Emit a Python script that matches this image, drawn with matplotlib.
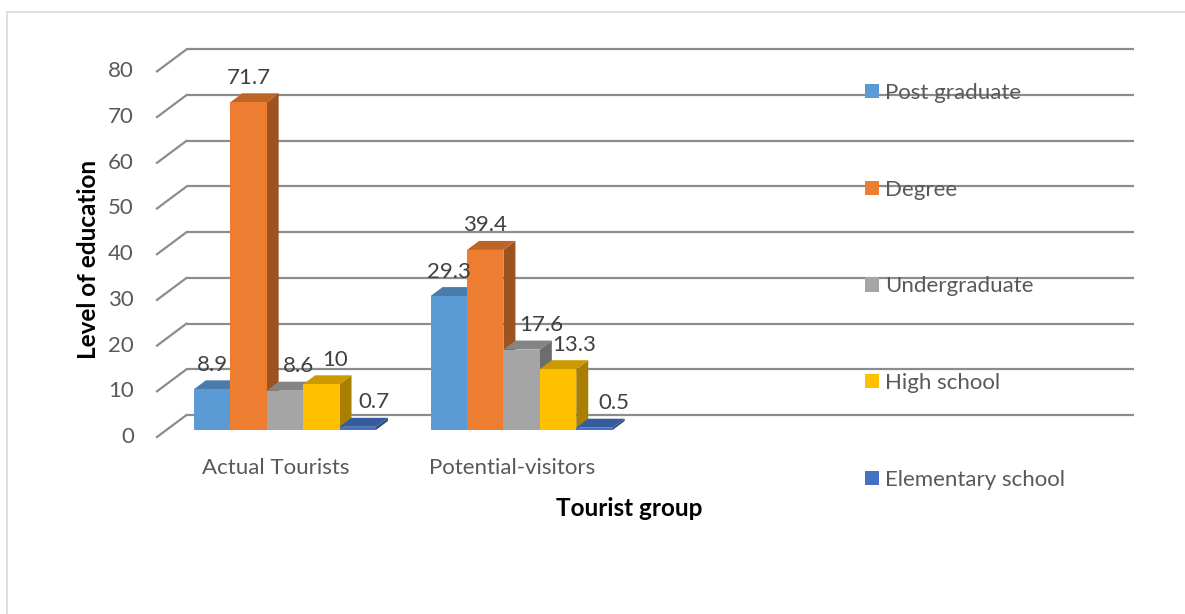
import numpy as np
import matplotlib
matplotlib.use("Agg")
import matplotlib.pyplot as plt
from matplotlib.patches import Polygon, Rectangle, Patch

plt.rcParams['font.family'] = ['Lato', 'DejaVu Sans']

# data
groups = ['Actual Tourists', 'Potential-visitors']
levels = ['Post graduate', 'Degree', 'Undergraduate', 'High school', 'Elementary school']
post_graduate = [8.9, 29.3]
degree = [71.7, 39.4]
undergraduate = [8.6, 17.6]
high_school = [10, 13.3]
elementary = [0.7, 0.5]
series = [post_graduate, degree, undergraduate, high_school, elementary]
colors = ['#5B9BD5', '#ED7D31', '#A5A5A5', '#FFC000', '#4472C4']
yticks = np.arange(0, 81, 10)

# layout (pixels of the 1185x614 picture)
W, H = 1185, 614
n_slots = 4              # the category axis has room for 4 groups
x0_px, slot_px = 166.5, 236.75
y0_px, unit_px = 430, 4.57
gap = 1.5                # Excel gap width 150%
nb = len(series)
bw = 1 / (nb + gap)
fs = 16

def dx(p):
    return p / slot_px

def dy(p):
    return p / unit_px

bar_d = (dx(12), dy(9))        # depth of the bars
wall_d = (dx(20), dy(15))      # back wall
front_d = (dx(-9.5), dy(-7))   # front edge of the floor

fig = plt.figure(figsize=(W / 100, H / 100), dpi=100)
ax = fig.add_axes([0, 0, 1, 1])
ax.set_xlim(-x0_px / slot_px, (W - x0_px) / slot_px)
ax.set_ylim(-(H - y0_px) / unit_px, y0_px / unit_px)
ax.axis('off')

grid_c = '#8C8C8C'
for v in yticks:
    ax.plot([wall_d[0], n_slots + wall_d[0]], [v + wall_d[1], v + wall_d[1]],
            color=grid_c, lw=1.6, zorder=1, solid_capstyle='butt')
    ax.plot([front_d[0], wall_d[0]], [v + front_d[1], v + wall_d[1]],
            color=grid_c, lw=1.6, zorder=1)
    ax.text(front_d[0] + dx(-23), v + front_d[1], str(v), ha='right', va='center',
            fontsize=fs, color='#595959')

def shade(c, f):
    r, g, b = matplotlib.colors.to_rgb(c)
    return (r * f, g * f, b * f)

label_shift = [[0, 0, 13.5, 14, 16], [0, 0, 20, 16, 19]]

z = 2
for i in range(len(groups)):
    for k, vals in enumerate(series):
        v = vals[i]
        left = i + (gap / 2 + k) * bw
        c = colors[k]
        side = [(left + bw, 0), (left + bw, v), (left + bw + bar_d[0], v + bar_d[1]),
                (left + bw + bar_d[0], bar_d[1])]
        top = [(left, v), (left + bw, v), (left + bw + bar_d[0], v + bar_d[1]),
               (left + bar_d[0], v + bar_d[1])]
        ax.add_patch(Polygon(side, closed=True, fc=shade(c, 0.66), ec='none', zorder=z))
        ax.add_patch(Polygon(top, closed=True, fc=shade(c, 0.8), ec='none', zorder=z + 0.1))
        ax.bar(left, v, bw, align='edge', color=c, zorder=z + 0.2, lw=0)
        z += 1
        ax.text(left + bw / 2 + dx(label_shift[i][k]), v + bar_d[1] + dy(15.5), f'{v:g}',
                ha='center', va='center', fontsize=fs, color='#404040', zorder=50)
    ax.text(i + 0.5 + front_d[0], front_d[1] + dy(-31), groups[i], ha='center',
            va='center', fontsize=fs, color='#595959')

ax.text(dx(629 - x0_px), dy(y0_px - 508), 'Tourist group', ha='center', va='center',
        fontsize=17.5, fontweight='bold', color='black')
ax.text(dx(88 - x0_px), dy(y0_px - 259), 'Level of education', ha='center', va='center',
        rotation=90, fontsize=17.5, fontweight='bold', color='black')

handles = [Patch(facecolor=c, edgecolor='none') for c in colors]
leg = fig.legend(handles, levels, loc='upper left', bbox_to_anchor=(865 / W, 1 - 83 / H),
                 frameon=False, fontsize=fs, labelcolor='#595959', handlelength=0.62,
                 handleheight=0.62, handletextpad=0.28, labelspacing=3.45,
                 borderpad=0, borderaxespad=0)

fig.add_artist(Rectangle((7 / W, -0.05), 1.1, 1 - 12 / H + 0.05, transform=fig.transFigure,
                         fill=False, ec='#D9D9D9', lw=1.2))

fig.savefig('out.png', dpi=100)
